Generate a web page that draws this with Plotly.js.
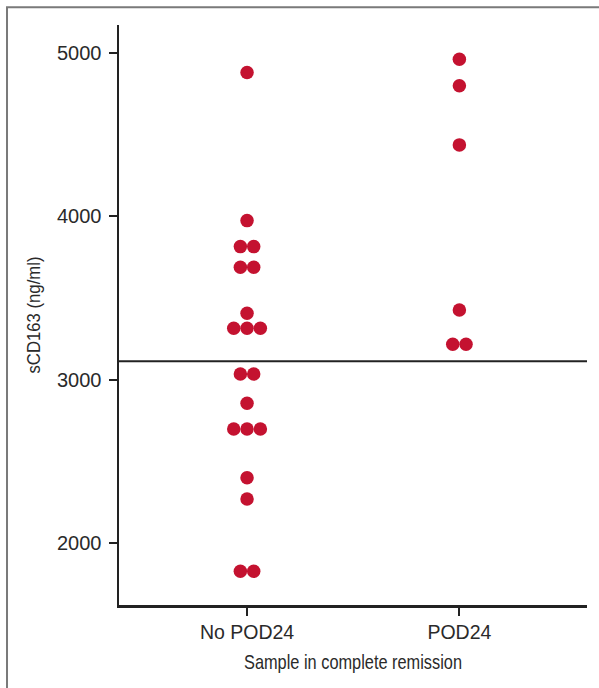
<!DOCTYPE html>
<html>
<head>
<meta charset="utf-8">
<script src="https://cdn.plot.ly/plotly-3.0.1.min.js"></script>
<style>html,body{margin:0;padding:0;background:#fff;}#chart{width:599px;height:688px;}</style>
</head>
<body>
<div id="chart"></div>
<script>
// ---- data ----
const categories = ["No POD24", "POD24"];
const noPod24Values = [4878, 3973, 3814, 3814, 3688, 3688, 3406, 3315, 3315, 3315,
                       3035, 3035, 2856, 2699, 2699, 2699, 2401, 2271, 1829, 1829];
const pod24Values = [4960, 4797, 4436, 3427, 3217, 3217];
const cutoff = 3113;
const yTickVals = [2000, 3000, 4000, 5000];

// ---- swarm layout: tied values are spread side by side ----
const dotSpacing = 0.0627;
function swarm(values, catIndex) {
  const counts = {}, seen = {};
  values.forEach(v => counts[v] = (counts[v] || 0) + 1);
  const xs = values.map(v => {
    const i = seen[v] || 0; seen[v] = i + 1;
    return catIndex + (i - (counts[v] - 1) / 2) * dotSpacing;
  });
  return {x: xs, y: values};
}

const dotColor = '#c41230';
const a = swarm(noPod24Values, 0);
const b = swarm(pod24Values, 1);
const traces = [a, b].map((s, k) => ({
  type: 'scatter', mode: 'markers', x: s.x, y: s.y, name: categories[k],
  marker: {size: 13.5, color: dotColor, line: {width: 0}},
  hoverinfo: 'y', cliponaxis: false
}));

const axisColor = '#222';
const layout = {
  width: 599, height: 688,
  margin: {l: 119, r: 12, t: 25, b: 83},
  paper_bgcolor: '#fff', plot_bgcolor: '#fff',
  showlegend: false,
  font: {family: 'Liberation Sans, Arial, sans-serif', color: '#2a2a2a', size: 19},
  xaxis: {
    range: [-0.603, 1.601], tickvals: [0, 1], ticktext: categories,
    showgrid: false, zeroline: false, showline: true, linecolor: axisColor, linewidth: 2.5,
    ticks: 'outside', ticklen: 8, tickwidth: 2, tickcolor: axisColor,
    tickfont: {size: 19.5},
    title: {text: 'Sample in complete remission', standoff: 13,
            font: {size: 21}}
  },
  yaxis: {
    range: [1622.7, 5169], tickvals: yTickVals,
    showgrid: false, zeroline: false, showline: true, linecolor: axisColor, linewidth: 2.5,
    ticks: 'outside', ticklen: 8, tickwidth: 2, tickcolor: axisColor,
    tickfont: {size: 20}, ticklabelstandoff: 3,
    title: {text: 'sCD163 (ng/ml)', standoff: 12,
            font: {size: 19}}
  },
  shapes: [
    {type: 'line', xref: 'paper', x0: 0, x1: 1, yref: 'y', y0: cutoff, y1: cutoff,
     line: {color: axisColor, width: 2}},
    {type: 'rect', xref: 'paper', yref: 'paper', x0: -0.2393, x1: 1.2, y0: -0.3, y1: 1.0305,
     line: {color: '#7a7a7a', width: 2}, layer: 'below'}
  ]
};

// condense the axis titles (the original uses a condensed typeface)
function condense(sel, len) {
  const t = document.querySelector(sel);
  if (t) { t.setAttribute('textLength', len); t.setAttribute('lengthAdjust', 'spacingAndGlyphs'); }
}
Plotly.newPlot('chart', traces, layout, {displayModeBar: false, staticPlot: true}).then(() => {
  condense('.g-xtitle text', 218);
  condense('.g-ytitle text', 117);
});
</script>
</body>
</html>
